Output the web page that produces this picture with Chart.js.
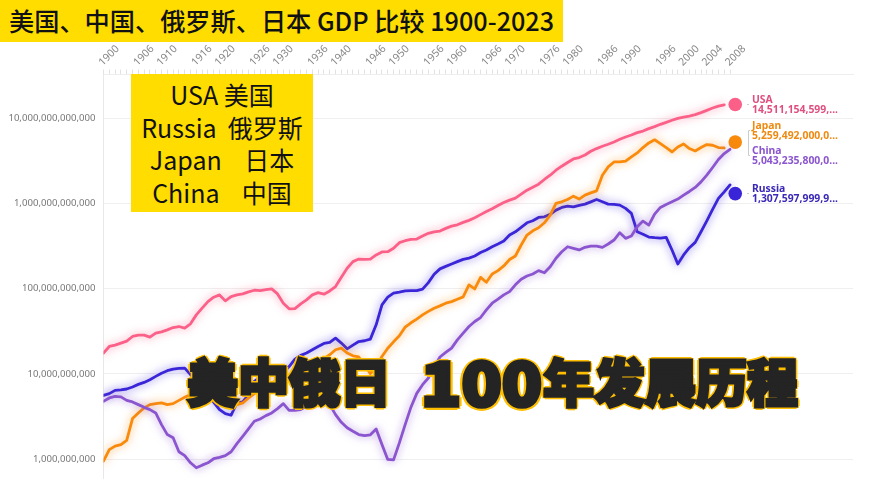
<!DOCTYPE html>
<html>
<head>
<meta charset="utf-8">
<title>GDP</title>
<script src="https://cdn.jsdelivr.net/npm/chart.js@4/dist/chart.umd.js"></script>
<style>
  html, body { margin: 0; padding: 0; background: #fff; }
  body { width: 870px; height: 492px; overflow: hidden; position: relative; font-family: "Noto Sans CJK SC", "Noto Sans", sans-serif; }
  canvas { position: absolute; left: 0; top: 0; }
  #title { position: absolute; left: 0; top: 0; width: 563px; height: 42px; line-height: 41px; background: #ffdd00; color: #111; font-size: 25.2px; font-weight: 500; padding-left: 9px; box-sizing: border-box; white-space: pre; }
  #names { position: absolute; left: 131px; top: 74px; width: 182px; height: 138px; padding-top: 4px; box-sizing: border-box; background: #ffdd00; color: #111; font-size: 25px; line-height: 32.6px; text-align: center; white-space: pre; }
  #big { position: absolute; left: 187px; top: 342px; font-size: 51px; line-height: 76px; font-weight: 900; color: #242424; -webkit-text-stroke: 3px #242424; white-space: pre;
    text-shadow: 3.2px 0 #ffbf00, -3.2px 0 #ffbf00, 0 3.2px #ffbf00, 0 -3.2px #ffbf00, 2.3px 2.3px #ffbf00, -2.3px 2.3px #ffbf00, 2.3px -2.3px #ffbf00, -2.3px -2.3px #ffbf00; }
  #big .num { display: inline-block; transform: scale(1.3, 1.2); margin: 0 15px 0 32px; }
</style>
</head>
<body>
<canvas id="gdpChart" width="870" height="492"></canvas>
<div id="title">美国、中国、俄罗斯、日本 GDP 比较 1900-2023</div>
<div id="names">USA 美国
Russia  俄罗斯
Japan    日本
China    中国</div>
<div id="big">美中俄日 <span class="num">100</span>年发展历程</div>
<script>
// GDP in billions of USD, one value per year from 1900
const startYear = 1900;
const usa = [17.6,21.0,21.8,23.0,24.3,27.5,28.5,28.5,27.0,30.1,31.2,32.9,35.0,36.0,34.5,38.7,49.3,59.1,70.6,79.5,
  84.6,72.0,80.8,84.6,86.9,91.8,96.0,95.0,97.6,99.5,86.9,67.6,58.0,58.5,66.4,73.9,84.6,90.0,86.2,94.2,
  106,136,174,208,223,221,223,249,270,272,298,347,366,380,383,415,447,466,475,511,
  543,563,601,634,680,741,804,867,950,1030,1096,1157,1288,1435,1556,1687,1915,2151,2461,2742,
  3027,3337,3467,3717,4109,4416,4699,4963,5281,5678,6041,6368,6802,7096,7572,7998,8511,8976,9484,10000,
  10350,10640,11050,11660,12410,13210,13930,14400];
const russia = [5.60,5.87,6.41,6.48,6.65,7.03,7.54,7.95,8.55,9.35,10.2,10.9,11.4,11.6,11.7,9.8,8.55,7.14,5.87,4.64,
  3.81,3.42,3.27,4.56,4.69,5.71,8.17,9.2,9.8,10.05,10.2,10.4,12.2,14.9,16.5,17.6,19.2,21.0,22.8,23.4,
  26.3,23.0,19.7,21.8,24.0,24.5,25.6,37.7,64.6,79.5,88.6,91,94.2,95,95,98.9,118,148,171,183,
  195,208,221,229,242,266,285,311,335,363,427,466,525,594,627,687,699,745,837,900,
  933,915,950,984,1047,1117,1047,984,976,958,877,766,466,435,404,397,393,401,285,195,
  249,303,350,466,627,853,1148,1371,1656];
const japan = [0.945,1.29,1.42,1.48,1.66,2.99,3.48,3.99,4.36,4.48,4.56,4.36,4.48,4.89,5.31,5.71,6.24,7.47,8.55,9.35,
  8.17,7.14,5.71,4.36,4.56,5.22,5.87,6.41,7.14,7.82,8.55,8.95,9.2,10.2,11.2,11.7,12.6,14.0,15.1,16.8,
  19.2,20.1,17.6,16.3,15.8,12.8,10.05,12.2,16.0,20.0,23.8,28.0,35.4,39.8,44.0,49.3,54.2,59.1,62.9,67.6,
  70.6,75.3,80.2,111,99.5,136,119,149,163,185,220,242,326,427,479,519,594,731,1003,1047,
  1117,1221,1127,1254,1334,1409,2151,2691,3077,3077,3139,3523,3925,4539,5139,5598,5058,4539,4027,4613,
  5000,4416,4140,4539,4920,4831,4539,4488];
const china = [4.76,5.22,5.45,5.37,4.89,4.69,4.36,4.05,3.81,3.48,2.54,1.94,1.78,1.22,1.10,0.905,0.791,0.849,0.905,1.01,
  1.05,1.10,1.22,1.52,1.85,2.26,2.78,2.96,3.24,3.48,3.91,4.48,3.74,3.74,3.81,4.16,4.56,4.99,4.76,4.36,
  3.33,2.70,2.33,2.12,1.94,1.89,1.93,2.26,1.48,0.99,0.98,1.55,2.54,4.07,5.91,7.47,8.95,12.1,15.8,17.9,
  20.1,25.1,30.1,36.0,41.2,45.9,56.5,67.6,75.3,84.6,92.5,111,129,141,149,163,154,181,228,272,
  311,298,285,306,317,317,306,335,373,454,390,415,533,622,558,752,900,976,1047,1127,
  1254,1386,1545,1795,2151,2648,3283,3862,4335];

// last values shown next to the lines
const endNames = ['USA', 'Japan', 'China', 'Russia'];
const endValues = [14511.154599, 5259.492, 5043.2358, 1307.597999];
const endTexts = ['14,511,154,599,...', '5,259,492,000,0...', '5,043,235,800,0...', '1,307,597,999,9...'];

const xTickYears = [1900,1906,1910,1916,1920,1926,1930,1936,1940,1946,1950,1956,1960,1966,1970,1976,1980,1986,1990,1996,2000,2004,2008];
const yTickValues = [1, 10, 100, 1000, 10000];
const yTickLabels = ['1,000,000,000', '10,000,000,000', '100,000,000,000', '1,000,000,000,000', '10,000,000,000,000'];

const colors = { USA: '#fb6089', Japan: '#f98a0b', China: '#8a55cf', Russia: '#3a25d8' };
const textColors = { USA: '#df4f7e', Japan: '#ee8a12', China: '#8a55cf', Russia: '#3a28b8' };
const labelCenters = [105, 131, 156, 194];

function toPoints(values) {
    return values.map((v, i) => ({ x: startYear + i, y: v }));
}

function lineSet(name, values) {
    return {
        label: name,
        data: toPoints(values),
        borderColor: colors[name],
        borderWidth: 2.8,
        pointRadius: 0,
        tension: 0,
        borderCapStyle: 'round',
        borderJoinStyle: 'round',
        glow: colors[name] + 'aa'
    };
}

// pale halo around the lines
const glowPlugin = {
    id: 'glow',
    beforeDatasetDraw(chart, args) {
        const ds = chart.data.datasets[args.index];
        chart.ctx.save();
        if (ds.glow) {
            chart.ctx.shadowColor = ds.glow;
            chart.ctx.shadowBlur = 8;
        }
    },
    afterDatasetDraw(chart) {
        chart.ctx.restore();
    }
};

// two line labels at the right end, plus the small connectors
const endLabelPlugin = {
    id: 'endLabels',
    afterDatasetsDraw(chart) {
        const ctx = chart.ctx;
        ctx.save();
        ctx.font = 'bold 10.4px "Noto Sans", sans-serif';
        ctx.textBaseline = 'middle';
        endNames.forEach((name, i) => {
            ctx.fillStyle = textColors[name];
            ctx.fillText(name, 752, labelCenters[i] - 4.5);
            ctx.fillText(endTexts[i], 752, labelCenters[i] + 5.5);
        });
        ctx.strokeStyle = '#cccccc';
        ctx.lineWidth = 1;
        ctx.beginPath();
        ctx.moveTo(747, 104.5); ctx.lineTo(749, 104.5);
        ctx.moveTo(747, 193.5); ctx.lineTo(749, 193.5);
        ctx.moveTo(750, 130.5); ctx.lineTo(748.5, 130.5); ctx.lineTo(748.5, 155.5); ctx.lineTo(750, 155.5);
        ctx.stroke();
        ctx.restore();
    }
};

new Chart(document.getElementById('gdpChart').getContext('2d'), {
    type: 'line',
    data: {
        datasets: [
            lineSet('China', china),
            lineSet('Japan', japan),
            lineSet('Russia', russia),
            lineSet('USA', usa),
            {
                // China's dot sits hidden under Japan's, so it is left out
                label: 'end',
                data: [1, 0, 3].map(i => ({ x: 2008.9, y: endValues[i] })),
                showLine: false,
                pointRadius: 6.8,
                pointBorderWidth: 0,
                pointBackgroundColor: [colors.Japan, colors.USA, colors.Russia]
            }
        ]
    },
    options: {
        responsive: false,
        animation: false,
        layout: { padding: { left: 0, right: 17, top: 0, bottom: 14 } },
        plugins: { legend: { display: false }, title: { display: false }, tooltip: { enabled: false } },
        scales: {
            x: {
                type: 'linear',
                position: 'top',
                min: 1900,
                max: 2029.2,
                afterFit(scale) { scale.height = 74.5; },
                afterBuildTicks(scale) {
                    scale.ticks = [];
                    for (let y = 1900; y <= 2008; y++) scale.ticks.push({ value: y });
                },
                grid: { drawOnChartArea: false, drawTicks: true, tickLength: 5, color: '#e2e2e2' },
                border: { color: '#eeeeee' },
                ticks: {
                    autoSkip: false,
                    maxRotation: 45,
                    minRotation: 45,
                    padding: 1,
                    labelOffset: 6,
                    color: '#888888',
                    font: { family: '"Noto Sans", sans-serif', size: 10.5 },
                    callback: v => xTickYears.includes(v) ? String(v) : ''
                }
            },
            y: {
                type: 'logarithmic',
                min: 0.625,
                max: 32700,
                afterFit(scale) { scale.width = 103.5; },
                afterBuildTicks(scale) {
                    scale.ticks = yTickValues.map(v => ({ value: v }));
                },
                grid: { color: '#efefef', drawTicks: false },
                border: { color: '#e8e8e8' },
                ticks: {
                    padding: 8,
                    color: '#777777',
                    font: { family: '"Noto Sans", sans-serif', size: 9.6 },
                    callback: v => yTickLabels[yTickValues.indexOf(v)]
                }
            }
        }
    },
    plugins: [glowPlugin, endLabelPlugin]
});
</script>
</body>
</html>
